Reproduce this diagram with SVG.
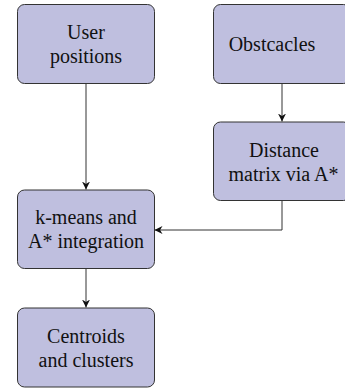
<svg xmlns="http://www.w3.org/2000/svg" width="345" height="389" viewBox="0 0 345 389">
<style>
.box{fill:#bfbfdf;stroke:#333;stroke-width:1}
.t{font-size:20px;fill:#111;text-anchor:middle}
.con{fill:none;stroke:#333;stroke-width:1}
</style>
<defs>
<marker id="ah" viewBox="0 0 10 10" refX="10" refY="5" markerWidth="8" markerHeight="8" markerUnits="userSpaceOnUse" orient="auto">
<path d="M0,0 L10,5 L0,10 L3,5 Z" fill="#111"/>
</marker>
</defs>
<rect width="345" height="389" fill="#fff"/>
<g id="connectors">
<path class="con" d="M86,83.5 V189.5" marker-end="url(#ah)"/>
<path class="con" d="M282,83.5 V121.5" marker-end="url(#ah)"/>
<path class="con" d="M282,200.5 V230 H154.5" marker-end="url(#ah)"/>
<path class="con" d="M86,268.5 V307.5" marker-end="url(#ah)"/>
</g>
<g font-family="'Liberation Serif', 'DejaVu Serif', serif">
<g id="user">
<rect class="box" x="17.5" y="4.5" width="137" height="79" rx="7"/>
<text class="t" x="86" y="38.5">User</text>
<text class="t" x="86" y="62.5">positions</text>
</g>
<g id="obstacles">
<rect class="box" x="213.5" y="4.5" width="137" height="79" rx="7"/>
<text class="t" x="272" y="50.5">Obstcacles</text>
</g>
<g id="distance">
<rect class="box" x="213.5" y="122" width="137" height="78.5" rx="7"/>
<text class="t" x="284" y="156.5">Distance</text>
<text class="t" x="283.5" y="180.5">matrix via A*</text>
</g>
<g id="kmeans">
<rect class="box" x="17.5" y="190" width="137" height="78.5" rx="7"/>
<text class="t" x="86" y="224">k-means and</text>
<text class="t" x="86" y="248">A* integration</text>
</g>
<g id="centroids">
<rect class="box" x="17.5" y="308" width="137" height="79" rx="7"/>
<text class="t" x="86" y="342.5">Centroids</text>
<text class="t" x="86" y="366.5">and clusters</text>
</g>
</g>
</svg>
